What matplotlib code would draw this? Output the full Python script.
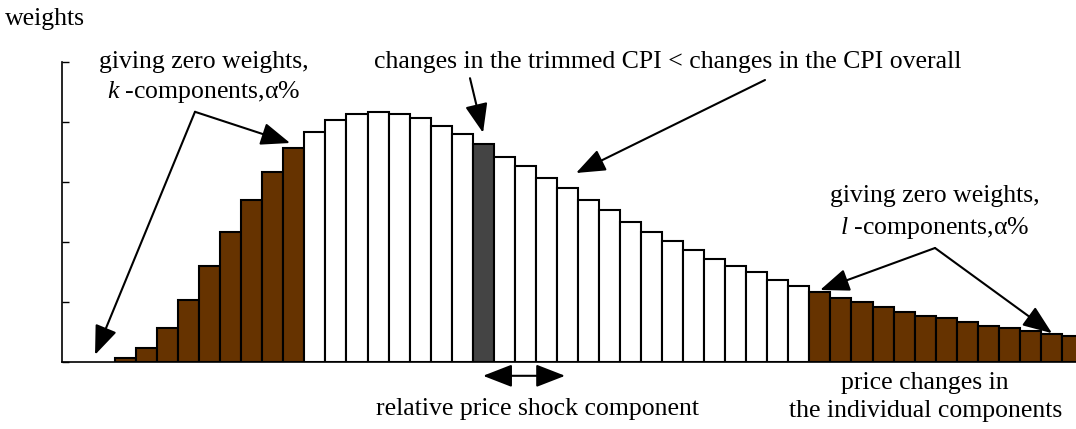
import matplotlib
matplotlib.use("Agg")
import matplotlib.pyplot as plt

# ---- data ----
weights = [0.06, 0.23, 0.56, 1.03, 1.60, 2.16, 2.70, 3.17, 3.56,
           3.83, 4.03, 4.13, 4.16, 4.13, 4.06, 3.93, 3.80,
           3.63,
           3.42, 3.27, 3.06, 2.90, 2.70, 2.53, 2.33, 2.16, 2.02, 1.86, 1.72, 1.60, 1.50, 1.36, 1.26,
           1.17, 1.06, 1.00, 0.92, 0.83, 0.76, 0.73, 0.66, 0.60, 0.56, 0.52, 0.46, 0.43]
group_sizes = [9, 8, 1, 15, 13]          # k-trimmed, kept, shock, kept, l-trimmed
group_kinds = ["trim", "keep", "shock", "keep", "trim"]
y_ticks = [0, 1, 2, 3, 4, 5]

kind_color = {"trim": "#663300", "keep": "#ffffff", "shock": "#444444"}
colors = []
for n, kind in zip(group_sizes, group_kinds):
    colors += [kind_color[kind]] * n

plt.rcParams["font.family"] = ["Liberation Serif", "DejaVu Serif"]
plt.rcParams["mathtext.fontset"] = "custom"
plt.rcParams["mathtext.it"] = "Liberation Serif:italic"
plt.rcParams["mathtext.rm"] = "Liberation Serif"

W, H = 1076, 429
fig = plt.figure(figsize=(W / 100, H / 100), dpi=100)
ax = fig.add_axes([62 / W, (H - 362) / H, (W - 62) / W, 300 / H])

x = list(range(len(weights)))
ax.bar(x, weights, width=1.0, color=colors, edgecolor="black", linewidth=1.5, zorder=2)

ax.set_xlim(-3.02, 45.17)
ax.set_ylim(0, 5)
ax.set_yticks(y_ticks)
ax.set_xticks([])
ax.tick_params(axis="y", direction="in", length=5, width=1.0, labelleft=False)
for s in ("top", "right"):
    ax.spines[s].set_visible(False)
ax.spines["left"].set_linewidth(1.2)
ax.spines["bottom"].set_linewidth(1.2)
ax.spines["bottom"].set_zorder(3)

fs = 18.5
arrow_kw = dict(arrowstyle="-|>,head_length=1.8,head_width=0.7", color="black",
                lw=1.5, shrinkA=0, shrinkB=0, mutation_scale=10)

def arrow(src, dst, style=None):
    kw = dict(arrow_kw)
    if style:
        kw["arrowstyle"] = style
    ax.annotate("", xy=dst, xytext=src, xycoords="data", textcoords="data",
                arrowprops=kw, annotation_clip=False)

# left (k-components) arrows
k_src = (3.30, 4.17)
arrow(k_src, (-1.45, 0.12))
arrow(k_src, (7.82, 3.65))
# trimmed CPI arrows
arrow((16.37, 4.73), (16.99, 3.82))
arrow((30.39, 4.70), (21.41, 3.15))
# right (l-components) arrows
l_src = (38.47, 1.90)
arrow(l_src, (33.01, 1.20))
arrow(l_src, (44.03, 0.48))
# double-headed arrow below axis
arrow((16.99, -0.23), (20.89, -0.23),
      style="<|-|>,head_length=1.8,head_width=0.7")

tk = dict(ha="center", va="center", fontsize=fs, clip_on=False)
ax.text(3.73, 5.0, "giving zero weights,", **tk)
ax.text(3.73, 4.5, r"$k$ -components,α%", **tk)
ax.text(25.78, 5.0, "changes in the trimmed CPI < changes in the CPI overall", **tk)
ax.text(38.47, 2.77, "giving zero weights,", **tk)
ax.text(38.47, 2.23, r"$l$ -components,α%", **tk)
ax.text(19.6, -0.78, "relative price shock component", **tk)
ax.text(38.0, -0.35, "price changes in", **tk)
ax.text(38.0, -0.82, "the individual components", **tk)
fig.text(5 / W, 1 - 19 / H, "weights", ha="left", va="center", fontsize=fs)

fig.savefig("out.png", dpi=100)
